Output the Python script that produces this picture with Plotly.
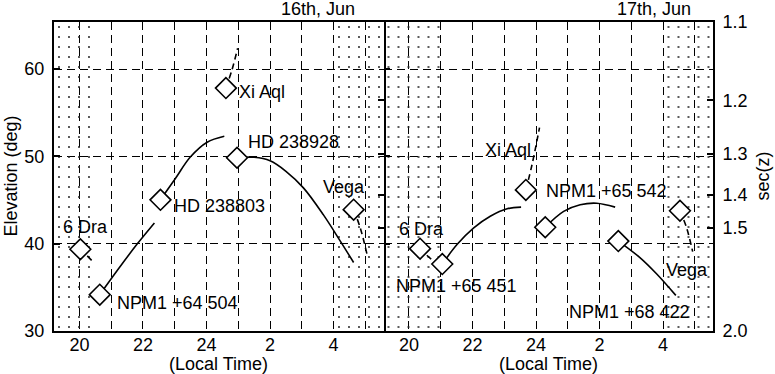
import math
import plotly.graph_objects as go

# ---------------- data ----------------
X_RANGE = [19.2, 29.57]          # local time in hours (24+ = after midnight)
Y_RANGE = [30, 65.4]             # elevation (deg)

x_tick_vals = [20, 22, 24, 26, 28]
x_tick_text = ["20", "22", "24", "2", "4"]
x_minor_grid = [21, 23, 25, 27, 29]
elev_ticks = [30, 40, 50, 60]
sec_ticks = [1.1, 1.2, 1.3, 1.4, 1.5, 2.0]
sec_tick_text = ["1.1", "1.2", "1.3", "1.4", "1.5", "2.0"]

panel_titles = ["16th, Jun", "17th, Jun"]

# twilight (dotted) intervals per night
shade_jun16 = [(19.2, 20.5), (28.0, 29.57)]
shade_jun17 = [(19.2, 20.97), (28.12, 29.57)]

# --- 16th Jun tracks (time h, elevation deg) ---
j16_6dra_t = [20.03, 20.22, 20.40]
j16_6dra_e = [39.37, 38.70, 38.04]
j16_npm64504_t = [20.64, 21.23, 21.81, 22.36]
j16_npm64504_e = [34.16, 37.13, 39.93, 42.38]
j16_hd238803_t = [22.55, 23.02, 23.49, 24.02, 24.56]
j16_hd238803_e = [45.03, 47.47, 49.93, 51.63, 52.31]
j16_xiaql_t = [24.61, 24.80, 24.98]
j16_xiaql_e = [57.83, 59.90, 62.40]
j16_hd238928_t = [24.96, 25.50, 26.00, 26.50, 27.05, 27.68, 28.21, 28.63]
j16_hd238928_e = [49.85, 49.90, 49.50, 48.30, 46.40, 43.30, 40.30, 37.85]
j16_vega_t = [28.63, 28.84, 29.05]
j16_vega_e = [43.90, 41.80, 38.80]

# --- 17th Jun tracks ---
j17_6dra_t = [20.35, 20.52, 20.70]
j17_6dra_e = [39.43, 38.83, 38.23]
j17_npm65451_t = [21.05, 21.52, 22.04, 22.56, 23.09, 23.53]
j17_npm65451_e = [37.67, 39.93, 41.81, 43.14, 44.00, 44.19]
j17_xiaql_t = [23.68, 23.87, 24.11]
j17_xiaql_e = [46.16, 48.99, 53.30]
j17_npm65542_t = [24.29, 24.87, 25.39, 25.91, 26.49]
j17_npm65542_e = [41.89, 43.70, 44.46, 44.64, 44.19]
j17_npm68422_t = [26.59, 27.27, 27.80, 28.40]
j17_npm68422_e = [40.30, 38.41, 36.53, 34.08]
j17_vega_t = [28.53, 28.74, 28.93]
j17_vega_e = [43.78, 41.81, 39.10]

# star name, times, elevations, dashed?
night16 = [
    ("6 Dra", j16_6dra_t, j16_6dra_e, True),
    ("NPM1 +64 504", j16_npm64504_t, j16_npm64504_e, False),
    ("HD 238803", j16_hd238803_t, j16_hd238803_e, False),
    ("Xi Aql", j16_xiaql_t, j16_xiaql_e, True),
    ("HD 238928", j16_hd238928_t, j16_hd238928_e, False),
    ("Vega", j16_vega_t, j16_vega_e, True),
]
night17 = [
    ("6 Dra", j17_6dra_t, j17_6dra_e, True),
    ("NPM1 +65 451", j17_npm65451_t, j17_npm65451_e, False),
    ("Xi Aql", j17_xiaql_t, j17_xiaql_e, True),
    ("NPM1 +65 542", j17_npm65542_t, j17_npm65542_e, False),
    ("NPM1 +68 422", j17_npm68422_t, j17_npm68422_e, False),
    ("Vega", j17_vega_t, j17_vega_e, True),
]

# ---------------- style ----------------
FONT = "Liberation Sans, Arial, Helvetica, sans-serif"
FS = 18
GRID_DASH = "8px,5px"
LINE_DASH = "6px,4px"

# label placement: (xanchor, xshift px, yshift px) relative to the diamond
label_style16 = {
    "6 Dra": ("center", 5, 22),
    "NPM1 +64 504": ("left", 15, -8),
    "HD 238803": ("left", 12, -6),
    "Xi Aql": ("left", 11, -4),
    "HD 238928": ("left", 9, 16),
    "Vega": ("center", -10, 23),
}
label_style17 = {
    "6 Dra": ("center", 1, 20),
    "NPM1 +65 451": ("left", -48, -22),
    "Xi Aql": ("center", -18, 40),
    "NPM1 +65 542": ("left", -1, 36),
    "NPM1 +68 422": ("left", -51, -71),
    "Vega": ("center", 7, -59),
}

fig = go.Figure()
annotations = []


def add_panel(xa, ya, shades, stars, labels):
    fig.add_trace(go.Bar(
        x=[(a + b) / 2 for a, b in shades], width=[b - a for a, b in shades],
        y=[Y_RANGE[1] - Y_RANGE[0]] * len(shades), base=Y_RANGE[0],
        xaxis=xa, yaxis=ya,
        marker=dict(color="rgba(0,0,0,0)", line=dict(width=0),
                    pattern=dict(shape=".", fgcolor="#222222", bgcolor="rgba(0,0,0,0)",
                                 size=10, solidity=0.03, fillmode="replace")),
        hoverinfo="skip", showlegend=False))
    for name, t, e, dashed in stars:
        fig.add_trace(go.Scatter(
            x=t, y=e, xaxis=xa, yaxis=ya, mode="lines",
            line=dict(color="black", width=1.6, dash=LINE_DASH if dashed else "solid",
                      shape="spline"),
            showlegend=False, hoverinfo="skip"))
    for name, t, e, dashed in stars:
        fig.add_trace(go.Scatter(
            x=[t[0]], y=[e[0]], xaxis=xa, yaxis=ya, mode="markers",
            marker=dict(symbol="diamond", size=16, color="white",
                        line=dict(color="black", width=1.6)),
            showlegend=False, hoverinfo="skip"))
        xanchor, dx, dy = labels[name]
        annotations.append(dict(
            x=t[0], y=e[0], xref=xa, yref=ya, text=name, showarrow=False,
            xanchor=xanchor, yanchor="middle", xshift=dx, yshift=dy,
            font=dict(family=FONT, size=FS, color="black")))


add_panel("x", "y", shade_jun16, night16, label_style16)
add_panel("x2", "y2", shade_jun17, night17, label_style17)

# invisible helpers so the overlaid sec(z) axes are drawn
for xa, ya in (("x", "y4"), ("x2", "y3")):
    fig.add_trace(go.Scatter(x=[X_RANGE[0]], y=[Y_RANGE[0]], xaxis=xa, yaxis=ya,
                             mode="markers", marker=dict(opacity=0),
                             showlegend=False, hoverinfo="skip"))

sec_positions = [math.degrees(math.asin(1.0 / s)) for s in sec_ticks]

tickfont = dict(family=FONT, size=FS, color="black")
xcommon = dict(
    range=X_RANGE, tickmode="array", tickvals=x_tick_vals, ticktext=x_tick_text,
    showgrid=True, gridcolor="black", gridwidth=1.3, griddash=GRID_DASH,
    minor=dict(tickmode="array", tickvals=x_minor_grid, showgrid=True,
               gridcolor="black", gridwidth=1.3, griddash=GRID_DASH, ticks=""),
    showline=True, linecolor="black", linewidth=2, mirror=True, ticks="",
    zeroline=False, tickfont=tickfont, automargin=False, fixedrange=True,
    ticklabelstandoff=-4,
)
ycommon = dict(
    range=Y_RANGE, tickmode="array", tickvals=elev_ticks,
    showgrid=True, gridcolor="black", gridwidth=1.3, griddash=GRID_DASH,
    ticks="inside", ticklen=6, tickwidth=1.5, tickcolor="black",
    zeroline=False, tickfont=tickfont, automargin=False, fixedrange=True,
)
seccommon = dict(
    range=Y_RANGE, tickmode="array", tickvals=sec_positions, ticktext=sec_tick_text,
    showgrid=False, zeroline=False, side="right",
    ticks="inside", ticklen=6, tickwidth=1.5, tickcolor="black",
    tickfont=tickfont, automargin=False, fixedrange=True,
)

fig.update_layout(
    width=775, height=374,
    margin=dict(l=54, r=62, t=22, b=43, autoexpand=False),
    paper_bgcolor="white", plot_bgcolor="white",
    barmode="overlay", bargap=0,
    xaxis=dict(domain=[0, 0.5], anchor="y", **xcommon),
    xaxis2=dict(domain=[0.5, 1], anchor="y2", **xcommon),
    yaxis=dict(anchor="x", ticklabelstandoff=4, showline=True, linecolor="black",
               linewidth=2, mirror=True, **ycommon),
    yaxis2=dict(anchor="x2", showticklabels=False, showline=False, **ycommon),
    yaxis3=dict(overlaying="y2", anchor="x2", ticklabelstandoff=4, showline=True,
                linecolor="black", linewidth=2, **seccommon),
    yaxis4=dict(overlaying="y", anchor="x", showticklabels=False, showline=False,
                **seccommon),
    showlegend=False,
)

# titles and axis captions
capfont = dict(family=FONT, size=FS, color="black")
annotations += [
    dict(text=panel_titles[0], xref="paper", yref="paper", x=(357 - 54) / 659, y=1 + 13 / 309,
         xanchor="right", yanchor="middle", showarrow=False, font=capfont),
    dict(text=panel_titles[1], xref="paper", yref="paper", x=(693 - 54) / 659, y=1 + 13 / 309,
         xanchor="right", yanchor="middle", showarrow=False, font=capfont),
    dict(text="(Local Time)", xref="paper", yref="paper", x=0.25, y=-33 / 309,
         xanchor="center", yanchor="middle", showarrow=False, font=capfont),
    dict(text="(Local Time)", xref="paper", yref="paper", x=0.75, y=-33 / 309,
         xanchor="center", yanchor="middle", showarrow=False, font=capfont),
    dict(text="Elevation (deg)", xref="paper", yref="paper", x=(10 - 54) / 659, y=0.5,
         xanchor="center", yanchor="middle", textangle=-90, showarrow=False, font=capfont),
    dict(text="sec(z)", xref="paper", yref="paper", x=(762 - 54) / 659, y=0.5,
         xanchor="center", yanchor="middle", textangle=-90, showarrow=False, font=capfont),
]
fig.update_layout(annotations=annotations)

fig.write_html("out.html", config={"displayModeBar": False},
               post_script="document.body.style.margin='0';document.body.style.padding='0';")
